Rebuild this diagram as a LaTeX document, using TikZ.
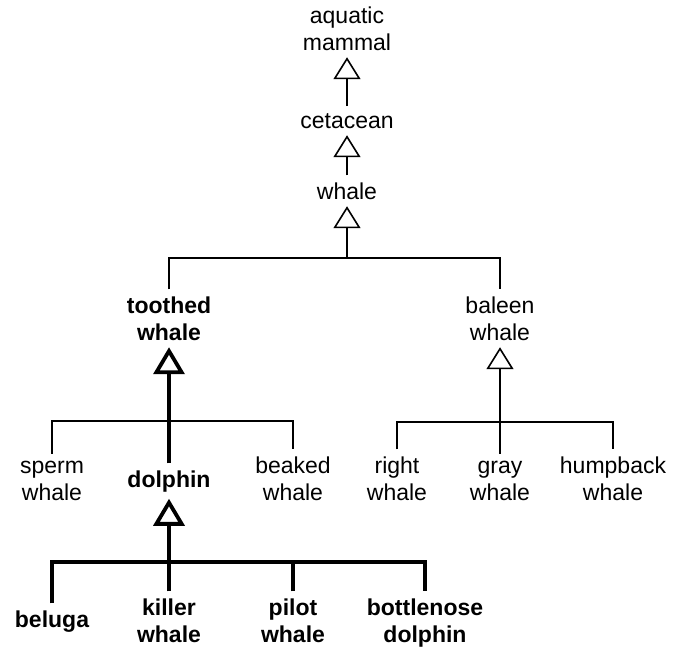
\documentclass[tikz,border=0pt]{standalone}
\usepackage{fontspec}
\setmainfont{Liberation Sans}
\usetikzlibrary{arrows.meta}

\begin{document}
\begin{tikzpicture}[x=1pt, y=-1pt, font=\fontsize{23}{27}\selectfont,
  every node/.style={align=center, anchor=base, inner sep=3pt, outer sep=4pt},
  hi/.style={font=\fontsize{23}{27}\selectfont\bfseries},
  flat/.style={execute at begin node={\vphantom{h}}},
  isa/.style={line width=1.6pt, -{Triangle[open, length=22pt, width=27pt]}},
  isab/.style={line width=3.8pt, -{Triangle[open, length=27pt, width=31pt]}},
  bar/.style={line width=1.6pt},
  barb/.style={line width=3.8pt}]
\useasboundingbox (0,0) rectangle (679,648);
% upper chain
\node (aq) at (347,50) {aquatic\\mammal};
\node (cet) at (347,128) {cetacean};
\node (wh) at (347,199) {whale};
\coordinate (wj) at (347,258);
% second level
\node[hi] (tw) at (169,340) {toothed\\whale};
\node (bw) at (500,340) {baleen\\whale};
\coordinate (tj) at (169,421);
\coordinate (bj) at (500,422);
% third level
\node[flat] (sw) at (52,500) {sperm\\whale};
\node[hi] (dol) at (169,487) {dolphin};
\node (bkw) at (293,500) {beaked\\whale};
\node (rw) at (397,500) {right\\whale};
\node[flat] (gw) at (500,500) {gray\\whale};
\node (hw) at (613,500) {humpback\\whale};
\coordinate (dj) at (169,562);
% dolphins
\node[hi] (bel) at (52,627) {beluga};
\node[hi] (kw) at (169,642) {killer\\whale};
\node[hi] (pw) at (293,642) {pilot\\whale};
\node[hi] (bn) at (425,642) {bottlenose\\dolphin};

\draw[isa] (cet.north) -- (aq.south);
\draw[isa] (wh.north) -- (cet.south);
\draw[isa] (wj) -- (wh.south);
\draw[bar] (tw.north) -- (tw.north |- wj) -- (bw.north |- wj) -- (bw.north);

\draw[isab] (dol.north) -- (tw.south);
\draw[bar] (sw.north) -- (sw.north |- tj) -- (bkw.north |- tj) -- (bkw.north);
\draw[isa] (gw.north) -- (bw.south);
\draw[bar] (rw.north) -- (rw.north |- bj) -- (hw.north |- bj) -- (hw.north);

\draw[isab] (kw.north) -- (dol.south);
\draw[barb] (bel.north) -- (bel.north |- dj) -- (bn.north |- dj) -- (bn.north);
\draw[barb] (pw.north) -- (pw.north |- dj);
\end{tikzpicture}
\end{document}
